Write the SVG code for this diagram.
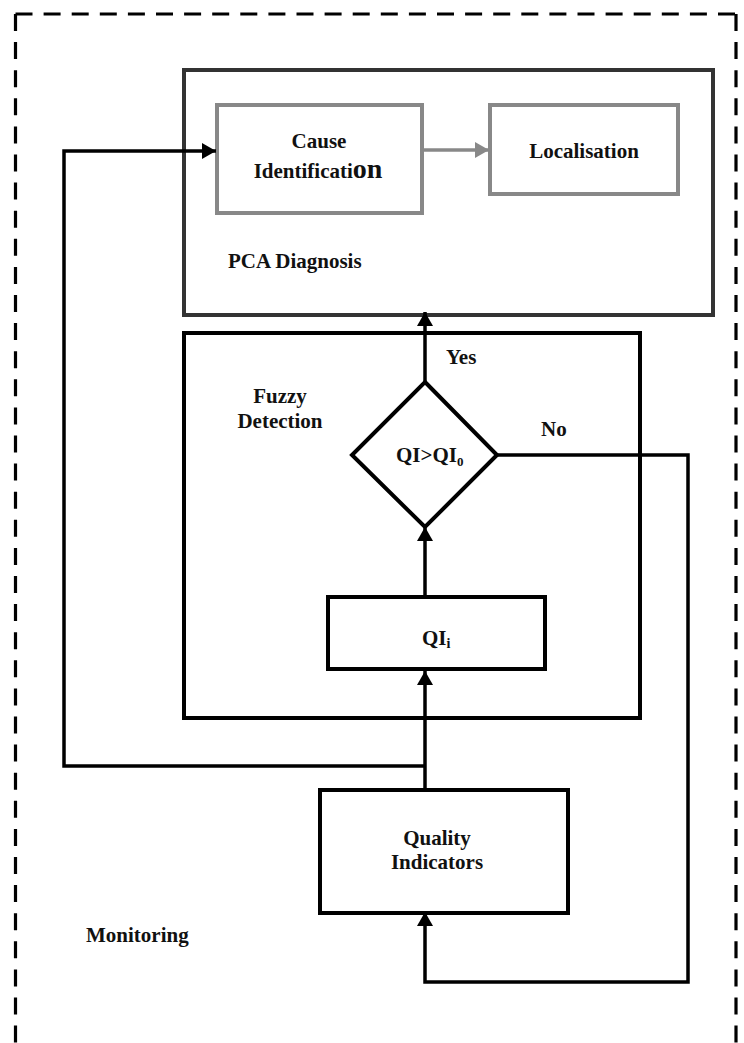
<svg xmlns="http://www.w3.org/2000/svg" width="744" height="1043" viewBox="0 0 744 1043">
<style>
  .t { font-family: "Liberation Serif", "Times New Roman", serif; font-weight: bold; font-size: 21px; fill: #111; }
  .box { fill: none; stroke: #000; stroke-width: 4; }
  .gbox { fill: none; stroke: #888; stroke-width: 4; }
  .pbox { fill: none; stroke: #333; stroke-width: 4; }
  .ln { fill: none; stroke: #000; stroke-width: 3.5; }
  .gln { fill: none; stroke: #888; stroke-width: 3.5; }
  .dash { fill: none; stroke: #000; stroke-width: 3.2; stroke-dasharray: 17 11.1; }
</style>
<defs>
  <marker id="ah" markerUnits="userSpaceOnUse" markerWidth="14" markerHeight="16" viewBox="0 0 14 16" refX="14" refY="8" orient="auto">
    <path d="M0,0 L14,8 L0,16 z" fill="#000"/>
  </marker>
  <marker id="gah" markerUnits="userSpaceOnUse" markerWidth="14" markerHeight="16" viewBox="0 0 14 16" refX="14" refY="8" orient="auto">
    <path d="M0,0 L14,8 L0,16 z" fill="#888"/>
  </marker>
</defs>
<rect width="744" height="1043" fill="#fff"/>

<g id="monitoring">
  <path class="dash" d="M15.5,14 L736,14"/>
  <path class="dash" d="M15.5,14 L15.5,1043"/>
  <path class="dash" d="M736,14 L736,1043"/>
  <text class="t" x="86" y="942">Monitoring</text>
</g>

<g id="pca-diagnosis">
  <rect class="pbox" x="184" y="70" width="529" height="245"/>
  <text class="t" x="228" y="268">PCA Diagnosis</text>
</g>

<g id="cause-identification">
  <rect class="gbox" x="217" y="105" width="205" height="108"/>
  <text class="t" x="319" y="148" text-anchor="middle">Cause</text>
  <text class="t" x="318" y="178" text-anchor="middle">Identificati<tspan style="font-size:28px">on</tspan></text>
</g>

<g id="localisation">
  <rect class="gbox" x="490" y="105" width="188" height="89"/>
  <text class="t" x="584" y="158" text-anchor="middle">Localisation</text>
</g>

<g id="fuzzy-detection">
  <rect class="box" x="184" y="333" width="456" height="385"/>
  <text class="t" x="280" y="403" text-anchor="middle">Fuzzy</text>
  <text class="t" x="280" y="428" text-anchor="middle">Detection</text>
</g>

<g id="decision">
  <polygon class="box" points="425,382 497,455 425,527 352,455"/>
  <text class="t" x="396" y="462">QI&gt;QI<tspan style="font-size:13px" dy="4">0</tspan></text>
</g>

<g id="qi-i">
  <rect class="box" x="328" y="597" width="217" height="72"/>
  <text class="t" x="422" y="645">QI<tspan style="font-size:14px" dy="3">i</tspan></text>
</g>

<g id="quality-indicators">
  <rect class="box" x="320" y="790" width="248" height="123"/>
  <text class="t" x="437" y="845" text-anchor="middle">Quality</text>
  <text class="t" x="437" y="869" text-anchor="middle">Indicators</text>
</g>

<g id="connectors">
  <path class="gln" d="M422,150 L489,150" marker-end="url(#gah)"/>
  <path class="ln" d="M425,382 L425,312" marker-end="url(#ah)"/>
  <path class="ln" d="M497,455 L688,455 L688,982 L425,982 L425,912" marker-end="url(#ah)"/>
  <path class="ln" d="M425,597 L425,527" marker-end="url(#ah)"/>
  <path class="ln" d="M425,790 L425,671" marker-end="url(#ah)"/>
  <path class="ln" d="M425,766 L64,766 L64,151 L216,151" marker-end="url(#ah)"/>
  <text class="t" x="446" y="364">Yes</text>
  <text class="t" x="541" y="436">No</text>
</g>
</svg>
